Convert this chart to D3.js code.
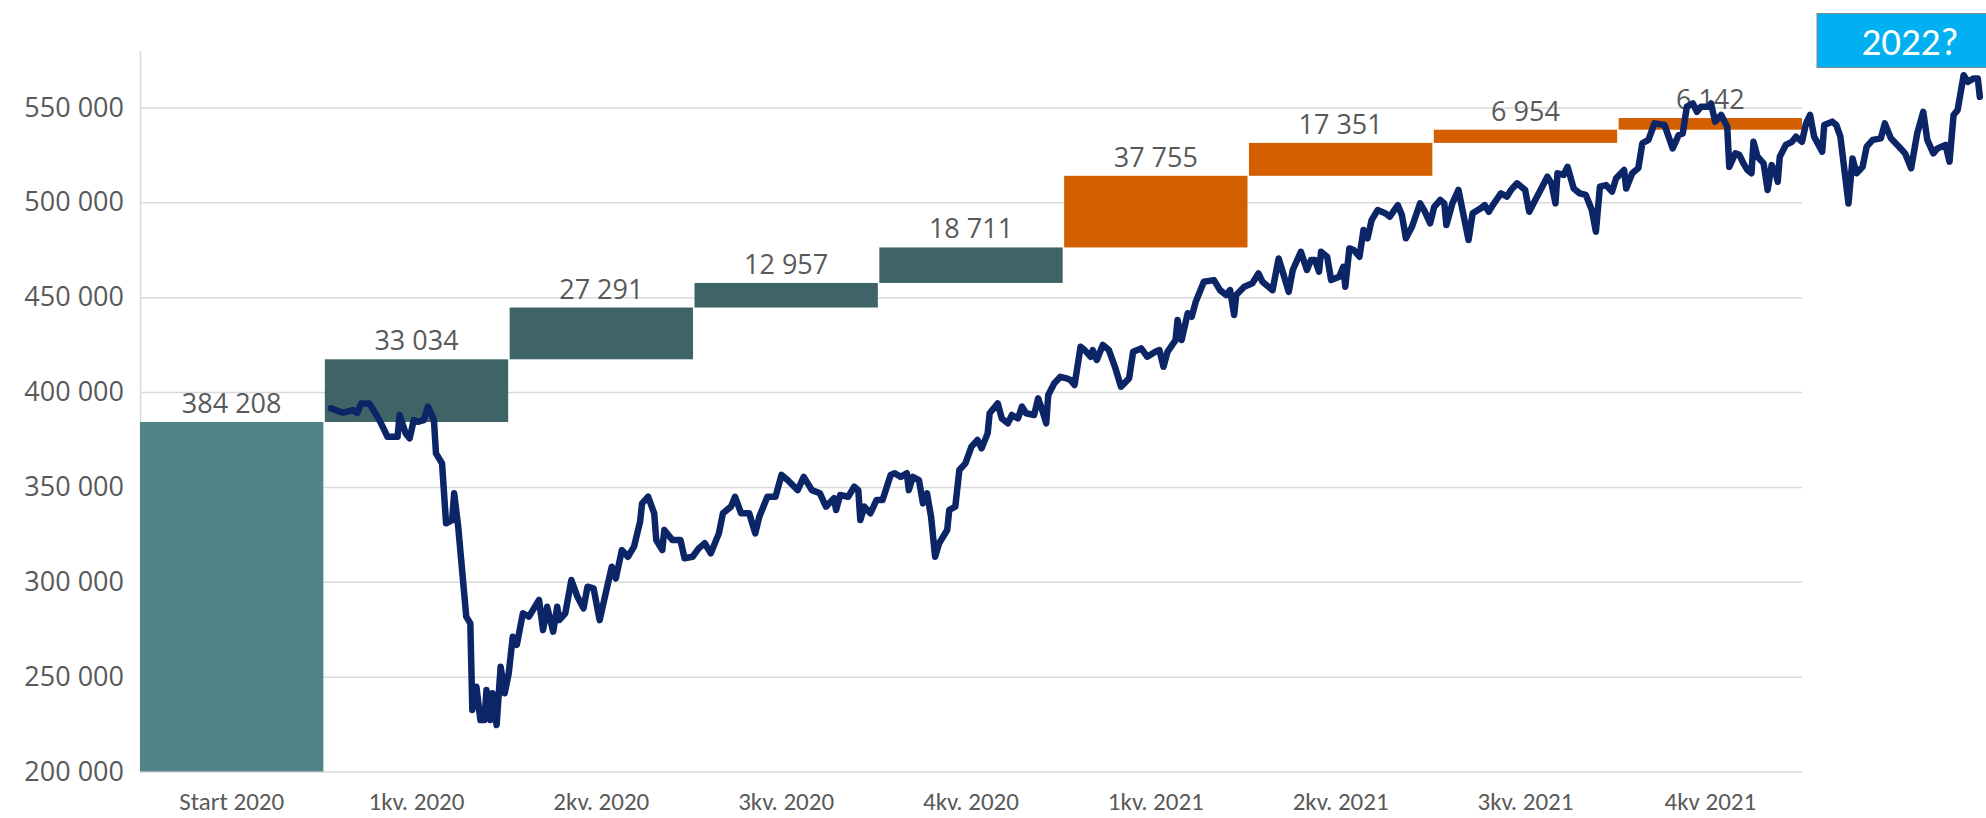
<!DOCTYPE html>
<html>
<head>
<meta charset="utf-8">
<script src="https://cdn.jsdelivr.net/npm/d3@7"></script>
<style>
  body { margin: 0; background: #fff; }
  svg { display: block; }
  .y.axis text, .label { font-family: "Open Sans", "Noto Sans", sans-serif; font-size: 27px; fill: #595959; }
  .x.axis text { font-family: Carlito, Calibri, "Liberation Sans Narrow", "DejaVu Sans Condensed", sans-serif; font-size: 25px; fill: #595959; }
  .axis line, .axis path { stroke: #d9d9d9; stroke-width: 1.5; }
</style>
</head>
<body>
<svg width="1986" height="818"></svg>
<script>
// waterfall: start value + quarterly changes
var categories = ["Start 2020", "1kv. 2020", "2kv. 2020", "3kv. 2020", "4kv. 2020",
                  "1kv. 2021", "2kv. 2021", "3kv. 2021", "4kv 2021"];
var changes = [384208, 33034, 27291, 12957, 18711, 37755, 17351, 6954, 6142];
var yTicks = [200000, 250000, 300000, 350000, 400000, 450000, 500000, 550000];
var calloutText = "2022?";

// portfolio value, days since 1 Jan 2020
var lineDays = [3, 9, 14, 16, 18, 22, 24, 27, 29, 31, 36, 37, 40, 42, 44, 46, 49, 51, 54, 55,
  58, 60, 63, 64, 66, 70, 72, 73, 75, 77, 79, 80, 82, 83, 85, 87, 89, 91, 93, 95,
  98, 101, 106, 108, 110, 113, 115, 116, 119, 122, 125, 128, 130, 133, 136, 139, 142, 144, 147, 150,
  153, 156, 157, 160, 163, 164, 167, 168, 172, 176, 178, 182, 185, 188, 191, 195, 197, 201, 203, 206,
  210, 213, 215, 219, 223, 226, 229, 234, 237, 241, 245, 248, 252, 253, 255, 259, 262, 264, 265, 267,
  270, 273, 276, 280, 282, 285, 288, 289, 291, 294, 296, 298, 300, 302, 304, 308, 309, 312, 314, 317,
  320, 323, 325, 328, 329, 333, 335, 338, 340, 343, 345, 347, 351, 353, 355, 357, 358, 361, 364, 367,
  369, 371, 374, 376, 379, 380, 382, 385, 388, 391, 394, 398, 400, 404, 407, 411, 413, 415, 417, 421,
  422, 424, 427, 429, 431, 435, 440, 443, 446, 448, 450, 451, 455, 459, 462, 464, 469, 472, 474, 477,
  479, 483, 486, 488, 490, 492, 493, 496, 498, 502, 504, 505, 507, 509, 512, 514, 516, 518, 521, 525,
  527, 531, 533, 535, 538, 542, 544, 547, 549, 552, 554, 555, 558, 561, 563, 566, 568, 572, 574, 576,
  578, 582, 585, 587, 590, 594, 596, 599, 602, 605, 607, 609, 610, 613, 615, 618, 621, 624, 627, 629,
  631, 634, 637, 639, 643, 644, 647, 650, 652, 655, 658, 663, 667, 670, 672, 674, 677, 679, 681, 685,
  686, 688, 691, 694, 695, 698, 700, 702, 704, 706, 707, 709, 712, 714, 716, 718, 719, 720, 723, 726,
  728, 731, 733, 735, 737, 741, 742, 746, 748, 750, 752, 754, 756, 758, 761, 763, 766, 770, 772, 775,
  779, 782, 785, 788, 791, 793, 796, 798, 802, 804, 806, 808, 811, 813, 816, 818, 819];
var lineValues = [391400, 389100, 390500, 389000, 394000, 394000, 390500, 385200, 380900, 376400,
  376400, 387900, 378200, 375600, 385200, 384300, 385200, 392300, 385200, 367700,
  362400, 330800, 332500, 346600, 329000, 281600, 278100, 232400, 244700, 227100,
  227100, 243000, 227100, 241200, 224500, 255200, 241200, 251700, 271000, 266700,
  283400, 281600, 290400, 274600, 286800, 273700, 286800, 279800, 283400, 300900,
  292100, 286000, 297400, 296500, 279800, 293900, 307900, 301800, 316700, 313200,
  318500, 331600, 341300, 344800, 336100, 322000, 316700, 327300, 322000, 322000,
  312400, 313200, 317600, 320300, 315000, 325500, 336100, 339600, 344800, 336100,
  336100, 325500, 334300, 344800, 344800, 356300, 353600, 348300, 355300, 348300,
  346600, 339600, 344000, 337800, 345700, 344800, 350100, 348300, 332500, 339600,
  336100, 343100, 343100, 356300, 357200, 355300, 357200, 348300, 355300, 353600,
  341300, 346600, 334300, 313200, 320300, 327300, 337800, 339600, 358900, 362400,
  371200, 374700, 370300, 378200, 388800, 394000, 386100, 383500, 387900, 386100,
  392300, 388800, 387900, 396700, 390500, 383500, 398400, 404600, 408000, 407200,
  406300, 403700, 423900, 422100, 418600, 422100, 416900, 424800, 422100, 413300,
  402800, 407200, 421200, 423000, 418600, 421200, 422100, 413300, 421200, 427400,
  438000, 427400, 441500, 439700, 447600, 458100, 459000, 453700, 451100, 453700,
  440600, 451100, 455500, 457300, 462500, 458100, 453700, 470400, 463400, 452800,
  464300, 473900, 464300, 469600, 469600, 463400, 473900, 471300, 459000, 460800,
  466000, 455500, 475700, 475000, 471300, 485400, 481000, 490600, 495900, 494100,
  492400, 498500, 493300, 481000, 487100, 499400, 495900, 488900, 497600, 501200,
  499400, 488000, 499400, 506500, 495900, 480100, 494200, 496800, 498500, 495000,
  498500, 504700, 503000, 506500, 510000, 506500, 495000, 501200, 507300, 513500,
  510000, 499400, 515300, 514400, 518700, 507300, 504700, 503900, 495900, 484500,
  508200, 509100, 505600, 512600, 517000, 507300, 515300, 518000, 531100, 532900,
  541600, 540700, 528400, 535500, 536300, 550400, 552100, 547700, 550400, 550400,
  552100, 542500, 546000, 539800, 518700, 525800, 525000, 520500, 517000, 515300,
  531900, 524000, 520500, 506500, 519600, 515300, 510800, 524000, 530200, 531900,
  534600, 531900, 541600, 546000, 534600, 526700, 540700, 542500, 540700, 534600,
  517000, 499400, 523100, 515300, 518700, 529300, 532900, 533700, 541600, 533700,
  529300, 525800, 517900, 536300, 547700, 532900, 525800, 528400, 530200, 521400,
  546000, 548600, 567000, 563500, 565300, 565300, 555600];

var svg = d3.select("svg"),
    margin = {top: 50.5, right: 184, bottom: 46.5, left: 140},
    width = +svg.attr("width") - margin.left - margin.right,
    height = +svg.attr("height") - margin.top - margin.bottom,
    g = svg.append("g").attr("transform", "translate(" + margin.left + "," + margin.top + ")");

var fmt = d3.formatLocale({decimal: ",", thousands: " ", grouping: [3], currency: ["", ""]}).format(",d");

var x = d3.scaleBand().domain(categories).range([0, width]).paddingInner(0.008).paddingOuter(0);
var y = d3.scaleLinear().domain([200000, 580000]).range([height, 0]);
// line runs over the quarter bands, 731 days = 2020 + 2021
var t = d3.scaleLinear().domain([0, 731])
    .range([x(categories[1]), x(categories[categories.length - 1]) + x.bandwidth()]);

// cumulative waterfall steps
var steps = [], run = 0;
changes.forEach(function(c, i) {
  var from = i === 0 ? y.domain()[0] : run;
  run = i === 0 ? c : run + c;
  steps.push({cat: categories[i], from: from, to: run, change: c});
});

function barColor(d, i) {
  if (i === 0) return "#508489";
  return d.cat.indexOf("2021") >= 0 ? "#d35f00" : "#3e6467";
}

g.append("g") // y axis + gridlines
    .attr("class", "y axis")
    .call(d3.axisLeft(y).tickValues(yTicks).tickFormat(fmt)
      .tickSize(-width).tickSizeOuter(0).tickPadding(16));

g.append("g") // x axis labels
    .attr("class", "x axis")
    .attr("transform", "translate(0," + height + ")")
    .call(d3.axisBottom(x).tickSize(0).tickPadding(21))
    .select(".domain").remove();

g.selectAll(".bar")
  .data(steps)
  .enter().append("rect")
    .attr("class", "bar")
    .attr("x", function(d) { return x(d.cat); })
    .attr("width", x.bandwidth())
    .attr("y", function(d) { return y(d.to); })
    .attr("height", function(d) { return y(d.from) - y(d.to); })
    .attr("fill", barColor);

g.selectAll(".label")
  .data(steps)
  .enter().append("text")
    .attr("class", "label")
    .attr("x", function(d) { return x(d.cat) + x.bandwidth() / 2; })
    .attr("y", function(d) { return y(d.to) - 9; })
    .attr("text-anchor", "middle")
    .text(function(d) { return fmt(d.change); });

var points = lineDays.map(function(d, i) { return {day: d, value: lineValues[i]}; });

var valueline = d3.line()
    .x(function(d) { return t(d.day); })
    .y(function(d) { return y(d.value); });

g.append("path")
    .datum(points)
    .attr("fill", "none")
    .attr("stroke", "#0b2566")
    .attr("stroke-width", 6.5)
    .attr("stroke-linejoin", "round")
    .attr("stroke-linecap", "round")
    .attr("d", valueline);

// "2022?" callout to the right of the last quarter
var cx = margin.left + width + 15;
svg.append("rect")
    .attr("x", cx).attr("y", 13.5)
    .attr("width", 180).attr("height", 54)
    .attr("fill", "#00b0f0")
    .attr("stroke", "#7f8c8d").attr("stroke-width", 1);
svg.append("text")
    .attr("x", cx + 93).attr("y", 55)
    .attr("text-anchor", "middle")
    .attr("fill", "#fff")
    .style("font-family", "Carlito, Calibri, 'Liberation Sans Narrow', sans-serif")
    .style("font-size", "39px")
    .text(calloutText);
</script>
</body>
</html>
